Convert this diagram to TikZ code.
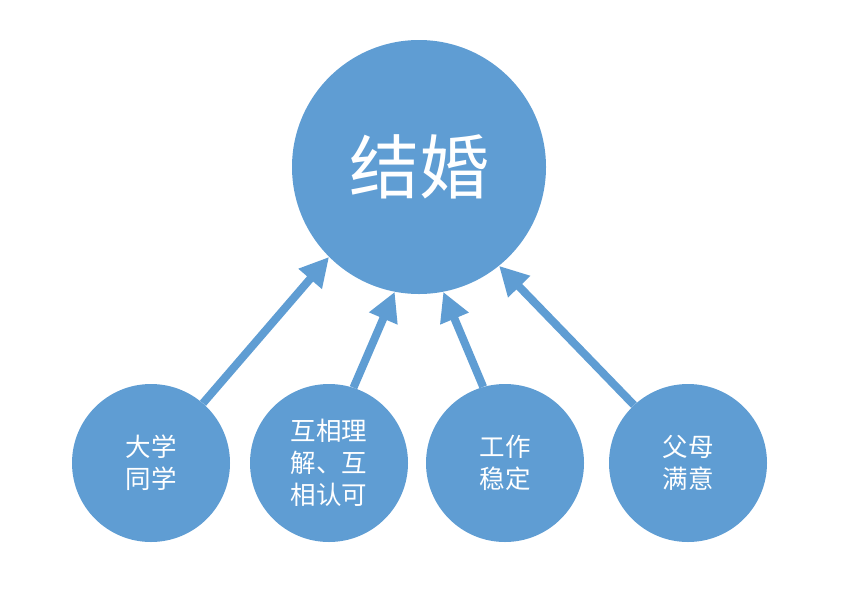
\documentclass[tikz,border=0pt]{standalone}
\usepackage{fontspec}
\newfontfamily\cjk{Noto Sans CJK SC}
\usetikzlibrary{arrows.meta, positioning}
\definecolor{wishblue}{HTML}{5F9DD3}
\tikzset{
  goal/.style={circle, fill=wishblue, text=white, inner sep=0pt,
    minimum size=254pt, font=\cjk\fontsize{70}{80}\selectfont},
  reason/.style={circle, fill=wishblue, text=white, inner sep=0pt,
    minimum size=158pt, align=center, font=\cjk\fontsize{25.5}{32}\selectfont},
  pull/.style={-{Triangle[length=29pt,width=29pt]}, line width=8pt, wishblue}
}

\begin{document}
\begin{tikzpicture}[x=1pt, y=-1pt]
  \useasboundingbox (0,0) rectangle (856,592);
  \node[goal] (marry) at (419,167) {结婚};
  \node[reason] (classmate) at (151,463) {大学\\同学};
  \node[reason] (respect) at (329,463) {互相理\\解、互\\相认可};
  \node[reason] (job) at (505,463) {工作\\稳定};
  \node[reason] (parents) at (688,463) {父母\\满意};
  % arrows up to the big circle
  \draw[pull] (classmate.49) -- (marry.225.6);
  \draw[pull] (respect.72.7) -- (marry.259.3);
  \draw[pull] (job.106) -- (marry.281.6);
  \draw[pull] (parents.133.5) -- (marry.309.7);
\end{tikzpicture}
\end{document}
